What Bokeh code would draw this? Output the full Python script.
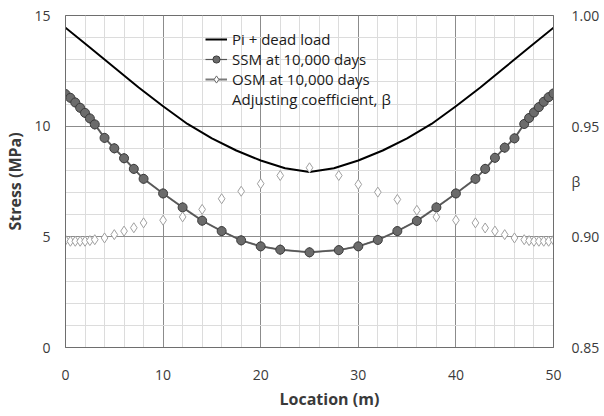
from bokeh.plotting import figure
from bokeh.models import (Range1d, LinearAxis, FixedTicker, Legend, Title,
                          LegendItem, NumeralTickFormatter, ColumnDataSource)
from bokeh.embed import file_html
from bokeh.resources import INLINE

# ---- data ----
location = [0, 0.5, 1, 1.5, 2, 2.5, 3, 4, 5, 6, 7, 8, 10, 12, 14, 16, 18, 20, 22,
            25, 28, 30, 32, 34, 36, 38, 40, 42, 43, 44, 45, 46, 47, 47.5, 48,
            48.5, 49, 49.5, 50]
ssm = [11.45, 11.28, 11.07, 10.83, 10.6, 10.35, 10.08, 9.47, 9.0, 8.55, 8.07,
       7.62, 6.96, 6.33, 5.73, 5.26, 4.84, 4.57, 4.42, 4.3, 4.4, 4.57, 4.86,
       5.26, 5.72, 6.33, 6.96, 7.62, 8.07, 8.57, 9.03, 9.45, 10.1, 10.37, 10.62,
       10.86, 11.1, 11.31, 11.48]
osm = [11.45, 11.28, 11.07, 10.83, 10.6, 10.35, 10.08, 9.47, 9.0, 8.55, 8.07,
       7.62, 6.96, 6.33, 5.73, 5.26, 4.84, 4.57, 4.42, 4.3, 4.4, 4.57, 4.86,
       5.26, 5.72, 6.33, 6.96, 7.62, 8.07, 8.57, 9.03, 9.45, 10.1, 10.37, 10.62,
       10.86, 11.1, 11.31, 11.48]
beta = [0.8985, 0.898, 0.898, 0.898, 0.898, 0.8983, 0.8987, 0.8995, 0.901,
        0.9026, 0.9041, 0.9063, 0.9075, 0.909, 0.9124, 0.9172, 0.9206, 0.924,
        0.9277, 0.9312, 0.9277, 0.9237, 0.9202, 0.9169, 0.912, 0.909, 0.9075,
        0.9063, 0.904, 0.9026, 0.901, 0.8995, 0.8987, 0.8983, 0.898, 0.898,
        0.898, 0.898, 0.8985]
load_location = [0, 2.5, 5, 7.5, 10, 12.5, 15, 17.5, 20, 22.5, 25, 27.5, 30,
                 32.5, 35, 37.5, 40, 42.5, 45, 47.5, 50]
pi_dead_load = [14.45, 13.55, 12.65, 11.75, 10.9, 10.1, 9.45, 8.9, 8.45, 8.1,
                7.93, 8.1, 8.45, 8.9, 9.45, 10.1, 10.9, 11.75, 12.65, 13.55, 14.45]

x_ticks = [0, 10, 20, 30, 40, 50]
x_minor = [2, 4, 6, 8, 12, 14, 16, 18, 22, 24, 26, 28, 32, 34, 36, 38, 42, 44, 46, 48]
y_ticks = [0, 5, 10, 15]
y_minor = [1, 2, 3, 4, 6, 7, 8, 9, 11, 12, 13, 14]
beta_ticks = [0.85, 0.90, 0.925, 0.95, 1.00]
beta_title_at = 0.925

FONT = "Open Sans"
TXT = "#3a3a3a"

p = figure(width=604, height=416, output_backend="svg", toolbar_location=None,
           x_range=Range1d(0, 50), y_range=Range1d(0, 15),
           min_border_left=65, min_border_right=51, min_border_top=15,
           min_border_bottom=69)
p.extra_y_ranges = {"beta": Range1d(0.85, 1.0)}
p.background_fill_color = "white"
p.outline_line_color = "#6e6e6e"
p.outline_line_width = 1

xaxis = p.xaxis[0]
yaxis = p.yaxis[0]
xaxis.ticker = FixedTicker(ticks=x_ticks, minor_ticks=x_minor)
yaxis.ticker = FixedTicker(ticks=y_ticks, minor_ticks=y_minor)

for g in (p.xgrid, p.ygrid):
    g.grid_line_color = "#8c8c8c"
    g.grid_line_width = 1
    g.minor_grid_line_color = "#dcdcdc"
    g.minor_grid_line_width = 1

right = LinearAxis(y_range_name="beta", ticker=FixedTicker(ticks=beta_ticks),
                   formatter=NumeralTickFormatter(format="0.00"))
right.major_label_overrides = {beta_title_at: "    β"}
p.add_layout(right, "right")

for ax in (xaxis, yaxis, right):
    ax.major_tick_line_color = None
    ax.minor_tick_line_color = None
    ax.major_tick_out = 0
    ax.major_tick_in = 0
    ax.minor_tick_out = 0
    ax.minor_tick_in = 0
    ax.axis_line_color = "#6e6e6e"
    ax.major_label_text_font = FONT
    ax.major_label_text_font_size = "14px"
    ax.major_label_text_color = TXT
    ax.axis_label_text_font = FONT
    ax.axis_label_text_font_size = "16px"
    ax.axis_label_text_font_style = "bold"
    ax.axis_label_text_color = TXT

xaxis.major_label_standoff = 22
yaxis.major_label_standoff = 15
right.major_label_standoff = 18

yaxis.axis_label = "Stress (MPa)"
yaxis.axis_label_standoff = 5

# glyphs
r_pi = p.line(load_location, pi_dead_load, line_color="black", line_width=2)
r_osm_line = p.line(location, osm, line_color="#7a7a7a", line_width=2)
r_osm_pts = p.scatter(location, osm, marker="diamond", size=10,
                      fill_color="white", line_color="#6a6a6a")
r_ssm_line = p.line(location, ssm, line_color="#555555", line_width=1.2)
r_ssm_pts = p.scatter(location, ssm, marker="circle", size=9,
                      fill_color="#6b6b6b", line_color="#3c3c3c", line_width=1)
r_beta = p.scatter(location, beta, y_range_name="beta", marker="diamond",
                   size=10, fill_color="white", line_color="#a0a0a0")
r_beta_leg = p.scatter(x="x", y="y", source=ColumnDataSource(dict(x=[], y=[])),
                       y_range_name="beta", marker="circle", size=6,
                       fill_color="white", line_color="#a0a0a0")

legend = Legend(items=[
    LegendItem(label="Pi + dead load", renderers=[r_pi]),
    LegendItem(label="SSM at 10,000 days", renderers=[r_ssm_line, r_ssm_pts]),
    LegendItem(label="OSM at 10,000 days", renderers=[r_osm_line, r_osm_pts]),
    LegendItem(label="Adjusting coefficient, β", renderers=[r_beta_leg]),
], location=(140, 238))
legend.background_fill_alpha = 0
legend.border_line_color = None
legend.label_text_font = FONT
legend.label_text_font_size = "15px"
legend.label_text_color = "#1a1a1a"
legend.label_height = 18
legend.glyph_height = 18
legend.glyph_width = 22
legend.label_standoff = 5
legend.spacing = 0
legend.padding = 2
legend.margin = 0
p.add_layout(legend, "center")

xtitle = Title(text="Location (m)", align="left", offset=214, standoff=6,
               text_font=FONT, text_font_size="16px", text_font_style="bold",
               text_color=TXT)
p.add_layout(xtitle, "below")

open("out.html", "w").write(file_html(p, INLINE))
